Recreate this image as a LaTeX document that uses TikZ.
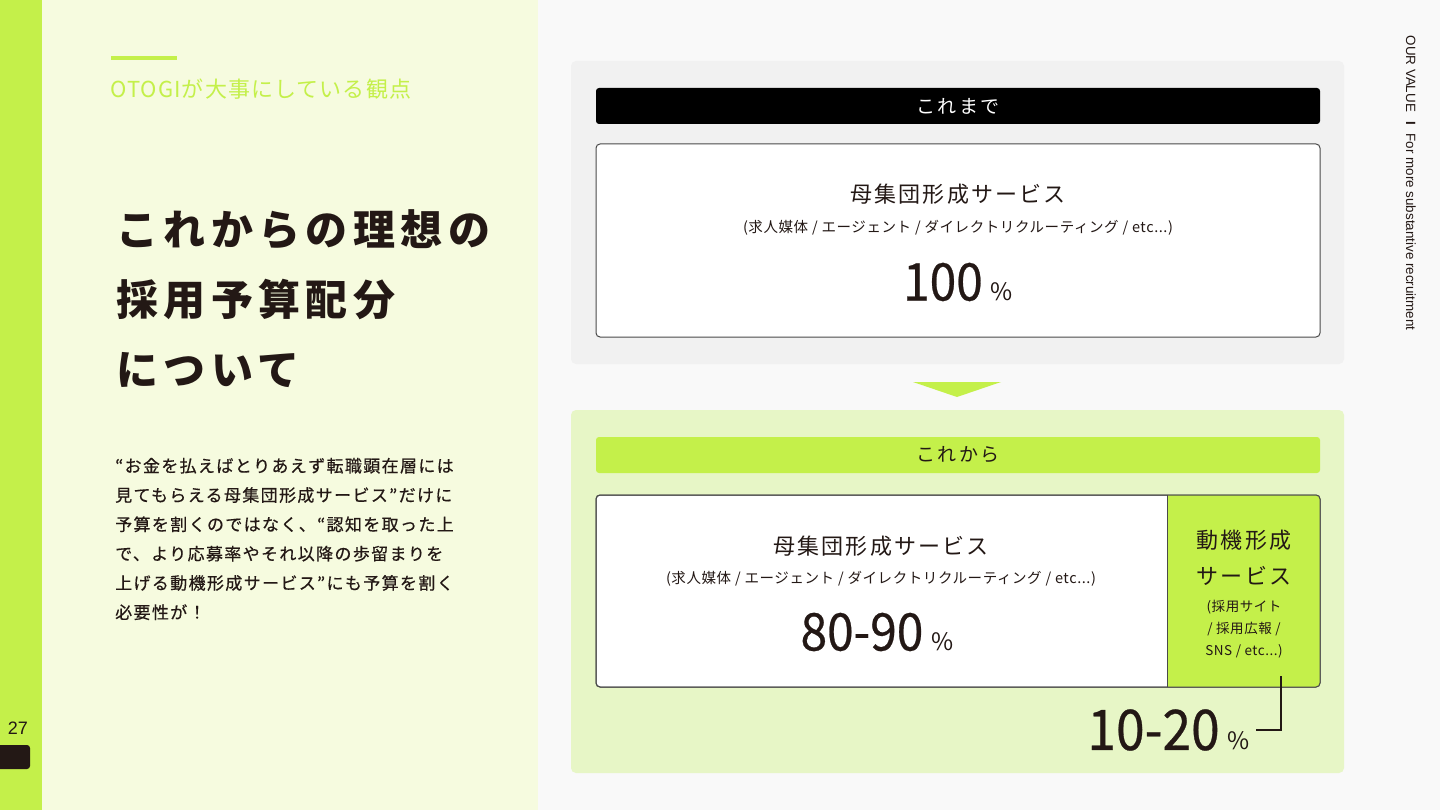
\documentclass[tikz,border=0pt]{standalone}
\usepackage{fontspec}
\setmainfont{Noto Sans CJK JP}
\newfontfamily\jp{Noto Sans CJK JP}
\newfontfamily\jpt[LetterSpace=13]{Noto Sans CJK JP}
\newfontfamily\jpb[LetterSpace=8,FakeBold=0.5]{Noto Sans CJK JP}
\newfontfamily\jpbar[LetterSpace=14]{Noto Sans CJK JP}
\newfontfamily\jph[LetterSpace=10]{Noto Sans CJK JP}
\newfontfamily\jpk[LetterSpace=5]{Noto Sans CJK JP}
\newfontfamily\jps[LetterSpace=4]{Noto Sans CJK JP}
\newfontfamily\numf[FakeStretch=0.92,FakeBold=0.5]{Noto Sans CJK JP}
\newfontfamily\lat{Liberation Sans}
\definecolor{lime}{HTML}{C4F04A}
\definecolor{leftbg}{HTML}{F6FBDF}
\definecolor{rightbg}{HTML}{F9F9F9}
\definecolor{graypanel}{HTML}{F1F1F1}
\definecolor{limepanel}{HTML}{E7F6C6}
\definecolor{ink}{HTML}{231815}
\definecolor{edge}{HTML}{4A4A4A}
\tikzset{
  box/.style={draw=edge, line width=1pt, rounded corners=4pt, inner sep=0pt},
  bar/.style={rounded corners=3pt, minimum width=724pt, minimum height=36pt, inner sep=0pt},
  lbl/.style={text=ink, inner sep=0pt, font={\jph\fontsize{22}{26}\selectfont}},
  sub/.style={text=ink, inner sep=0pt, font={\jps\fontsize{14.5}{22}\selectfont}},
  big/.style={text=ink, inner sep=0pt},
}
\newcommand{\pct}[2]{{\numf\fontsize{#1}{#1}\selectfont #2}\hspace{8pt}{\jp\fontsize{24}{24}\selectfont\%}}
\begin{document}
\begin{tikzpicture}[x=1pt,y=-1pt]
\useasboundingbox (0,0) rectangle (1440,810);
% backgrounds
\fill[rightbg] (0,0) rectangle (1440,810);
\fill[leftbg] (0,0) rectangle (538,810);
\fill[lime] (0,0) rectangle (42,810);
% header
\draw[lime, line width=4pt] (111,58) -- (177,58);
\node[anchor=west, inner sep=0pt, text=lime, font={\jpk\fontsize{22}{26}\selectfont}] (kicker) at (110,89) {OTOGIが大事にしている観点};
% title
\node[anchor=west, inner sep=0pt, text=ink, align=left, font={\jpt\bfseries\fontsize{42}{70}\selectfont}] (title) at (116,299) {これからの理想の\\採用予算配分\\について};
% body
\node[anchor=west, inner sep=0pt, text=ink, align=left, font={\jpb\fontsize{17}{29.3}\selectfont}] (body) at (115,539) {“お金を払えばとりあえず転職顕在層には\\見てもらえる母集団形成サービス”だけに\\予算を割くのではなく、“認知を取った上\\で、より応募率やそれ以降の歩留まりを\\上げる動機形成サービス”にも予算を割く\\必要性が！};
% page number
\node[text=ink, inner sep=0pt, font={\lat\fontsize{18}{20}\selectfont}] (page) at (18,728) {27};
\fill[ink, rounded corners=3pt] (-5,745) rectangle (30,769);
% side text
\node[rotate=-90, text=ink, inner sep=0pt, font={\lat\fontsize{13.4}{14}\selectfont}] (side) at (1411,183) {OUR VALUE\hspace{9pt}{\bfseries I}\hspace{9pt}For more substantive recruitment};
% top panel
\fill[graypanel, rounded corners=5pt] (571,61) rectangle (1344,364);
\node[bar, fill=black, text=white, font={\jpbar\fontsize{19}{22}\selectfont}] (before) at (958,106) {これまで};
\node[box, fill=white, minimum width=724pt, minimum height=193pt] (boxA) at (958,240.5) {};
\node[lbl] (labA) at (958,194) {母集団形成サービス};
\node[sub] (subA) at (958,228) {(求人媒体 / エージェント / ダイレクトリクルーティング / etc...)};
\node[big] (pctA) at (958,282) {\pct{52}{100}};
% arrow triangle
\fill[lime] (913,382) -- (1001,382) -- (957,397) -- cycle;
% bottom panel
\fill[limepanel, rounded corners=5pt] (571,410) rectangle (1344,773);
\node[bar, fill=lime, text=ink, font={\jpbar\fontsize{19}{22}\selectfont}] (after) at (958,455) {これから};
\node[box, fill=white, minimum width=724pt, minimum height=192pt] (frame) at (958,591) {};
\begin{scope}
  \clip[rounded corners=4pt] (596,495) rectangle (1320,687);
  \fill[lime] (1168,495) rectangle (1320,687);
\end{scope}
\node[box, minimum width=724pt, minimum height=192pt] (frameB) at (958,591) {};
\node[inner sep=0pt, minimum width=152pt, minimum height=192pt] (boxC) at (1244,591) {};
\draw[edge, line width=1pt] (boxC.north west) -- (boxC.south west);
\node[lbl] (labB) at (881,546) {母集団形成サービス};
\node[sub] (subB) at (881,579) {(求人媒体 / エージェント / ダイレクトリクルーティング / etc...)};
\node[big] (pctB) at (877,632) {\pct{52}{80-90}};
\node[lbl, align=center, font={\jph\fontsize{22}{36}\selectfont}] (labC) at (1244,558) {動機形成\\サービス};
\node[sub, align=center, font={\jps\fontsize{13.5}{22}\selectfont}] (subC) at (1244,629) {(採用サイト\\/ 採用広報 /\\SNS / etc...)};
\node[big, anchor=east, inner xsep=6pt] (pctC) at (1256,730) {\pct{56}{10-20}};
\coordinate (tick) at (1281,676);
\draw[ink, line width=2pt] (pctC.east) -| (tick);
\end{tikzpicture}
\end{document}
